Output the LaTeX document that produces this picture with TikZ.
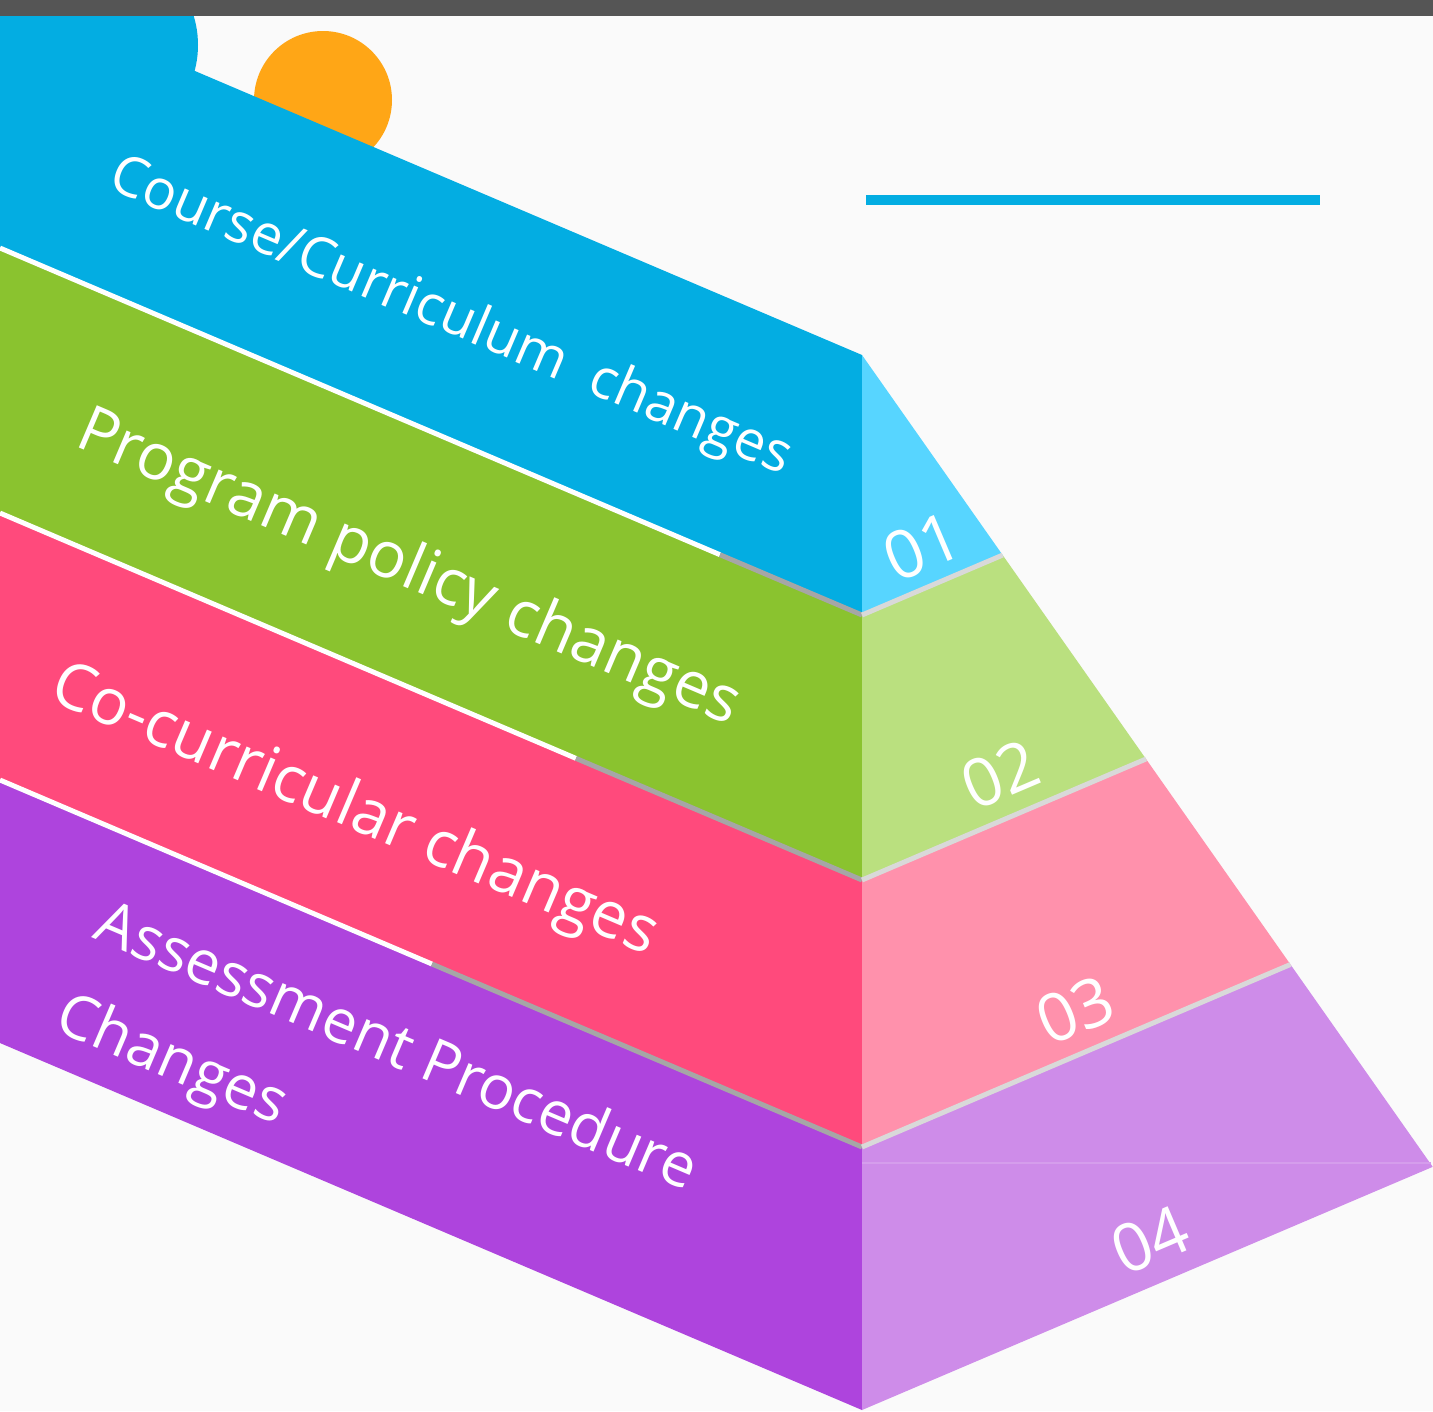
\documentclass[tikz,border=0pt]{standalone}
\usepackage{fontspec}
\setmainfont{Open Sans}
\definecolor{paper}{HTML}{FAFAFA}
\definecolor{topbar}{HTML}{555555}
\definecolor{sunorange}{HTML}{FFA616}
\definecolor{bluel}{HTML}{03ADE2}
\definecolor{bluer}{HTML}{57D5FF}
\definecolor{greenl}{HTML}{8AC32F}
\definecolor{greenr}{HTML}{BAE07F}
\definecolor{pinkl}{HTML}{FF4A7C}
\definecolor{pinkr}{HTML}{FF91AC}
\definecolor{purplel}{HTML}{AE44DD}
\definecolor{purpler}{HTML}{CE8CE9}
\definecolor{seamgray}{HTML}{A6A6A6}
\definecolor{seamlight}{HTML}{D9D9D9}
\tikzset{
    label text/.style={text=white,font=\fontsize{18.3}{28.4}\selectfont,rotate=-23.07,inner sep=0pt},
    step number/.style={text=white,font=\fontsize{19}{22}\selectfont,rotate=23.07,inner sep=0pt},
    seam/.style={line width=1.4pt}
}

\begin{document}
\begin{tikzpicture}[x=0.01cm,y=-0.01cm]
    \fill[paper] (0,0) rectangle (1433,1411);
    \useasboundingbox (0,0) rectangle (1433,1411);
    \fill[sunorange] (323,100) circle (69);
    \fill[bluel] (98,45) circle (100);
    \foreach \t/\b/\lc/\rc in {355/615/bluel/bluer,615/880/greenl/greenr,880/1147/pinkl/pinkr,1147/1410/purplel/purpler} {
        \pgfmathsetmacro{\yt}{(\t+106.3)/1.2995}
        \pgfmathsetmacro{\xt}{862+0.703*(\yt-355)}
        \pgfmathsetmacro{\yb}{(\b+106.3)/1.2995}
        \pgfmathsetmacro{\xb}{862+0.703*(\yb-355)}
        \fill[\lc] (0,\t-367) -- (862,\t) -- (862,\b) -- (0,\b-367) -- cycle;
        \fill[\rc] (862,\t) -- (\xt,\yt) -- (\xb,\yb) -- (862,\b) -- cycle;
    }
    \draw[purpler!85!white,line width=0.5pt] (862,1163) -- (1431,1163);
    \foreach \t/\w in {615/720,880/576,1147/432} {
        \pgfmathsetmacro{\yt}{(\t+106.3)/1.2995}
        \pgfmathsetmacro{\xt}{862+0.703*(\yt-355)}
        \draw[seam,white] (0,\t-367) -- (\w,\t-367+0.426*\w);
        \draw[seam,seamgray] (\w,\t-367+0.426*\w) -- (862,\t);
        \draw[seam,seamlight] (862,\t) -- (\xt,\yt);
    }
    \fill[topbar] (0,0) rectangle (1433,16);
    \fill[bluel] (866,195) rectangle (1320,205);

    \node[label text,font=\fontsize{15.8}{20}\selectfont] (course) at (450,318) {Course/Curriculum\ \ changes};
    \node[label text] (program) at (408,570) {Program policy changes};
    \node[label text] (cocurr) at (354,812) {Co-curricular changes};
    \node[label text,align=left,font=\fontsize{17.3}{28.4}\selectfont] (assess) at (376,1096) {Assessment Procedure\\Changes};

    \node[step number] (n01) at (922,547) {01};
    \node[step number] (n02) at (1000,775) {02};
    \node[step number] (n03) at (1075,1010) {03};
    \node[step number] (n04) at (1150,1240) {04};
\end{tikzpicture}
\end{document}
